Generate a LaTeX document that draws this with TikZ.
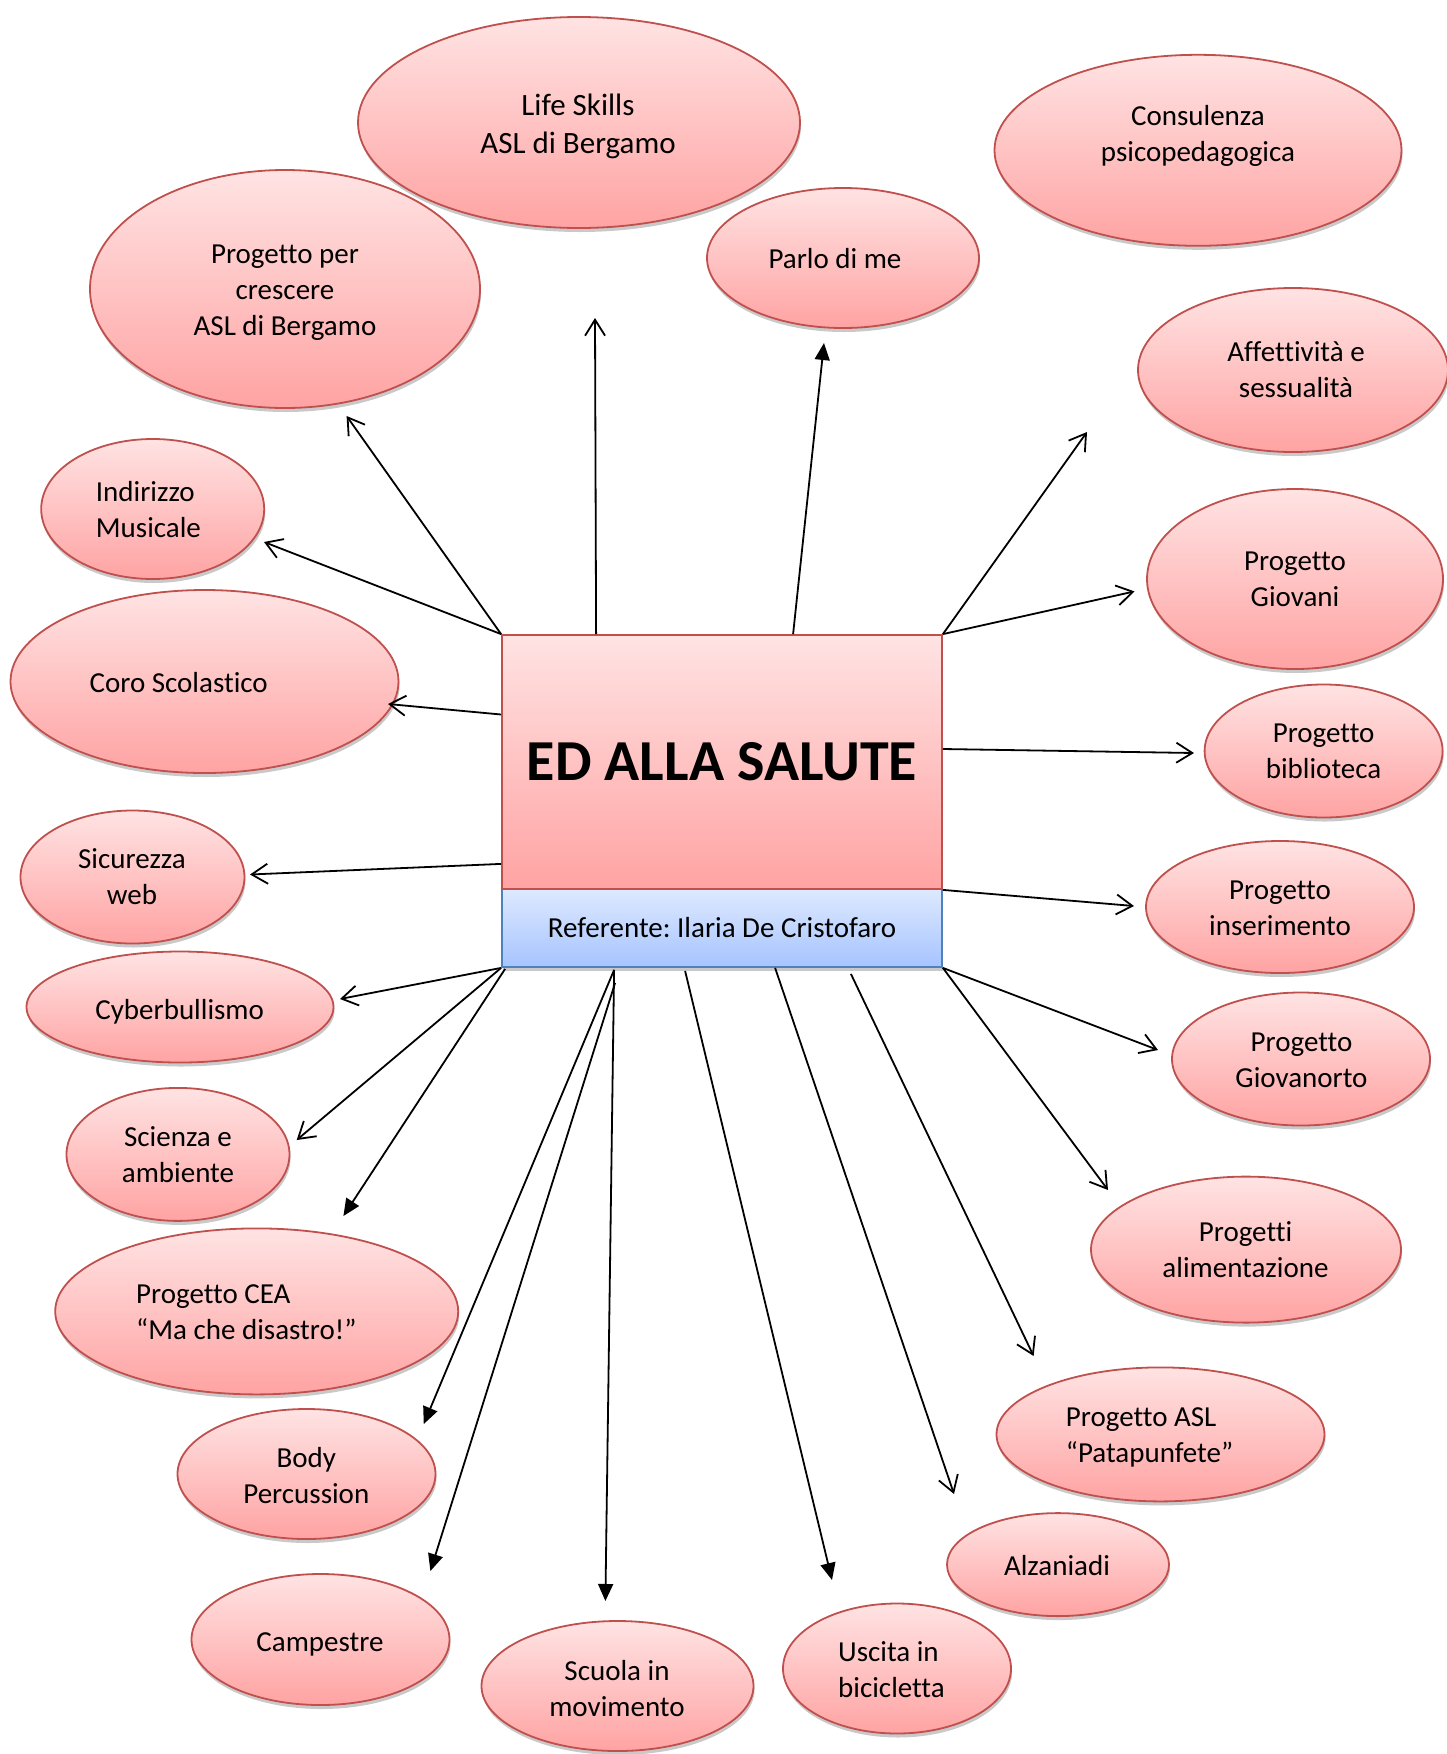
\documentclass[tikz,border=0pt]{standalone}
\usepackage{fontspec}
\setmainfont{Carlito}[Ligatures={NoCommon}]
\usetikzlibrary{shapes.geometric,arrows.meta,shadows,calc}
\definecolor{bubtop}{HTML}{FFE3E3}
\definecolor{bubbot}{HTML}{FFA3A3}
\definecolor{bubline}{HTML}{C0504D}
\definecolor{reftop}{HTML}{DEE9FF}
\definecolor{refbot}{HTML}{A6C4FF}
\definecolor{refline}{HTML}{4F81BD}
\frenchspacing
\tikzset{
  bub/.style={ellipse, draw=bubline, line width=1.8pt, top color=bubtop, bottom color=bubbot,
    inner sep=0pt, drop shadow={shadow xshift=1pt, shadow yshift=-4pt, opacity=0.3, fill=black!70}},
  txt/.style={font=\fontsize{29}{36}\selectfont, align=center, inner sep=0pt},
  txtl/.style={txt, align=left, anchor=west},
  con/.style={line width=1.8pt, draw=black},
  op/.style={con, -{Straight Barb[length=16pt,width=20pt]}},
  fl/.style={con, -{Triangle[length=17pt,width=15pt]}},
}
\begin{document}
\begin{tikzpicture}[x=1pt,y=-1pt]
\useasboundingbox (0,0) rectangle (1447,1754);
\clip (0,0) rectangle (1447,1754);

% ellipses
\node[bub, minimum width=442pt, minimum height=211pt] (lifeskills) at (579,122.5) {};
\node[bub, minimum width=390pt, minimum height=238pt] (crescere) at (285,289) {};
\node[bub, minimum width=272pt, minimum height=140pt] (parlo) at (843,258) {};
\node[bub, minimum width=407pt, minimum height=191pt] (consulenza) at (1198,150.3) {};
\node[bub, minimum width=310pt, minimum height=164pt] (affett) at (1293,370) {};
\node[bub, minimum width=296pt, minimum height=180pt] (giovani) at (1295,579) {};
\node[bub, minimum width=238pt, minimum height=133pt] (biblio) at (1323.6,751) {};
\node[bub, minimum width=268pt, minimum height=132pt] (inser) at (1280,907) {};
\node[bub, minimum width=258pt, minimum height=133pt] (giovanorto) at (1301,1059) {};
\node[bub, minimum width=310pt, minimum height=146pt] (aliment) at (1246,1249.6) {};
\node[bub, minimum width=328pt, minimum height=134pt] (asl) at (1160.5,1434.4) {};
\node[bub, minimum width=222pt, minimum height=103pt] (alzan) at (1058,1564.6) {};
\node[bub, minimum width=228pt, minimum height=130pt] (uscita) at (897,1668.5) {};
\node[bub, minimum width=272pt, minimum height=130pt] (scuola) at (617.5,1686) {};
\node[bub, minimum width=258pt, minimum height=131pt] (campestre) at (320.5,1639.5) {};
\node[bub, minimum width=258pt, minimum height=130pt] (body) at (306.5,1474) {};
\node[bub, minimum width=403pt, minimum height=166pt] (cea) at (256.7,1311.4) {};
\node[bub, minimum width=223pt, minimum height=133pt] (scienza) at (178,1154.4) {};
\node[bub, minimum width=307pt, minimum height=111pt] (cyber) at (180,1007) {};
\node[bub, minimum width=224pt, minimum height=133pt] (sicur) at (132.5,877) {};
\node[bub, minimum width=388pt, minimum height=183pt] (coro) at (204.5,681.5) {};
\node[bub, minimum width=223pt, minimum height=140pt] (indir) at (152.7,509) {};

% texts
\node[txt, font=\fontsize{31}{38}\selectfont] (lifeskills-t) at (578,126) {Life Skills\\ASL di Bergamo};
\node[txt] (crescere-t) at (285,293) {Progetto per\\crescere\\ASL di Bergamo};
\node[txt] (parlo-t) at (835,259) {Parlo di me};
\node[txt] (consulenza-t) at (1198,135.5) {Consulenza\\psicopedagogica};
\node[txt] (affett-t) at (1296,369.6) {Affettività e\\sessualità};
\node[txt] (giovani-t) at (1295,579.4) {Progetto\\Giovani};
\node[txt] (biblio-t) at (1323.6,751) {Progetto\\biblioteca};
\node[txt] (inser-t) at (1280,908.5) {Progetto\\inserimento};
\node[txt] (giovanorto-t) at (1301.5,1060) {Progetto\\Giovanorto};
\node[txt] (aliment-t) at (1245.5,1250) {Progetti\\alimentazione};
\node[txtl] (asl-t) at (1065.7,1437.4) {Progetto ASL\\“Patapunfete”};
\node[txt] (alzan-t) at (1057,1565.4) {Alzaniadi};
\node[txtl] (uscita-t) at (838,1669.5) {Uscita in\\bicicletta};
\node[txt] (scuola-t) at (617,1688.3) {Scuola in\\movimento};
\node[txt] (campestre-t) at (320,1644.5) {Campestre};
\node[txt] (body-t) at (306.3,1475.4) {Body\\Percussion};
\node[txtl] (cea-t) at (136,1312.3) {Progetto CEA\\“Ma che disastro!”};
\node[txt] (scienza-t) at (178,1155) {Scienza e\\ambiente};
\node[txt] (cyber-t) at (179.7,1012) {Cyberbullismo};
\node[txt] (sicur-t) at (132,877) {Sicurezza\\web};
\node[txt] (coro-t) at (178.7,682.7) {Coro Scolastico};
\node[txtl] (indir-t) at (95.7,509.6) {Indirizzo\\Musicale};

% central box
\node[rectangle, draw=refline, line width=1.8pt, top color=reftop, bottom color=refbot,
  minimum width=440pt, minimum height=78pt, inner sep=0pt,
  drop shadow={shadow xshift=1pt, shadow yshift=-4pt, opacity=0.3, fill=black!70},
  font=\fontsize{29}{36}\selectfont] (ref) at (722,928) {Referente: Ilaria De Cristofaro};
\node[rectangle, draw=bubline, line width=1.8pt, top color=bubtop, bottom color=bubbot,
  minimum width=440pt, minimum height=254pt, inner sep=0pt,
  font=\fontsize{58}{70}\selectfont\bfseries] (main) at (722,762) {ED ALLA SALUTE};

% arrow ends
\coordinate (eLife) at (595,318);
\coordinate (eParlo) at (824,343);
\coordinate (eAff) at (1087,432);
\coordinate (eGio) at (1134.5,591.4);
\coordinate (eBib) at (1194,753);
\coordinate (eIns) at (1134,906);
\coordinate (eGor) at (1158,1050);
\coordinate (eAli) at (1108,1190);
\coordinate (eAsl) at (1033.6,1356);
\coordinate (eAlz) at (954,1494);
\coordinate (eUsc) at (832,1580);
\coordinate (eScu) at (605.4,1601);
\coordinate (eBod) at (423.75,1424);
\coordinate (eCam) at (430.4,1571);
\coordinate (eCea) at (343.4,1216);
\coordinate (eSci) at (296.7,1140);
\coordinate (eCyb) at (340,999);
\coordinate (eSic) at (250,874.5);
\coordinate (eCor) at (388,704);
\coordinate (eInd) at (264,542);
\coordinate (eCre) at (346.6,416);

% connectors
\draw[op] ([xshift=95pt]main.north west) -- (eLife);
\draw[fl] ([xshift=292pt]main.north west) -- (eParlo);
\draw[op] (main.north east) -- (eAff);
\draw[op] (main.north east) -- (eGio);
\draw[op] ([yshift=13pt]main.east) -- (eBib);
\draw[op] (main.south east) -- (eIns);
\draw[op] (ref.south east) -- (eGor);
\draw[op] (ref.south east) -- (eAli);
\draw[op] ([xshift=-92pt,yshift=-6pt]ref.south east) -- (eAsl);
\draw[op] ([xshift=274pt]ref.south west) -- (eAlz);
\draw[fl] ([xshift=184pt,yshift=-3pt]ref.south west) -- (eUsc);
\draw[fl] ([xshift=113pt,yshift=-2pt]ref.south west) -- (eScu);
\draw[fl] ([xshift=113pt,yshift=-2pt]ref.south west) -- (eBod);
\draw[fl] ([xshift=114pt,yshift=-15pt]ref.south west) -- (eCam);
\draw[fl] ([xshift=4pt,yshift=-1pt]ref.south west) -- (eCea);
\draw[op] (ref.south west) -- (eSci);
\draw[op] (ref.south west) -- (eCyb);
\draw[op] ([yshift=26pt]main.south west) -- (eSic);
\draw[op] ([yshift=47.5pt]main.west) -- (eCor);
\draw[op] (main.north west) -- (eInd);
\draw[op] (main.north west) -- (eCre);
\end{tikzpicture}
\end{document}
